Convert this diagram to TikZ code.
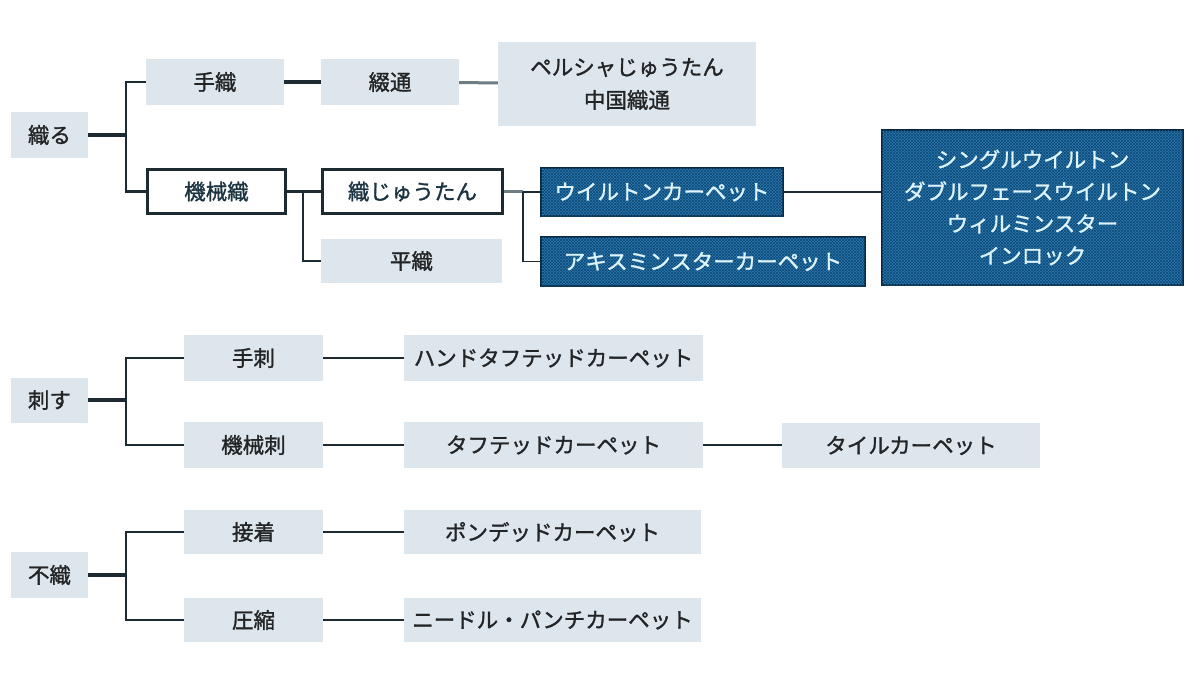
\documentclass[tikz,border=0pt]{standalone}
\usepackage{fontspec}
\setmainfont{Noto Sans CJK JP}[FakeBold=1.3]
\usetikzlibrary{patterns}
\definecolor{boxfill}{RGB}{221,230,236}
\definecolor{txt}{RGB}{34,36,38}
\definecolor{linec}{RGB}{30,42,50}
\definecolor{grayline}{RGB}{110,125,132}
\definecolor{bluefill}{RGB}{42,120,176}
\definecolor{bluepat}{RGB}{16,74,118}
\definecolor{bluetxt}{RGB}{222,244,252}
\definecolor{blueedge}{RGB}{12,40,62}
\definecolor{wtxt}{RGB}{28,52,66}
\tikzset{
  lbox/.style={draw=none, fill=boxfill, text=txt, minimum width=#1, inner sep=0pt,
    font=\fontsize{21.5}{33}\selectfont, align=center},
  wbox/.style={draw=linec, line width=3pt, fill=white, text=wtxt, minimum width=#1, inner sep=0pt,
    font=\fontsize{21.5}{33}\selectfont, align=center, minimum height=44},
  bbox/.style={draw=blueedge, line width=1.5pt, fill=bluefill, text=bluetxt, minimum width=#1, inner sep=0pt,
    font=\fontsize{21.5}{32}\selectfont, align=center,
    postaction={pattern=north east lines, pattern color=bluepat},
    postaction={pattern=north west lines, pattern color=bluepat}},
  conn/.style={draw=linec, line width=2.2pt},
  stub/.style={draw=linec, line width=3.2pt},
  thin/.style={draw=linec, line width=1.4pt},
  gconn/.style={draw=grayline, line width=3pt},
}
\begin{document}
\begin{tikzpicture}[x=1pt,y=-1pt]
\useasboundingbox (0,0) rectangle (1200,675);
\fill[white] (0,0) rectangle (1200,675);
% --- 織る group
\node[lbox=77, minimum height=46] (oru) at (49.5,135) {織る};
\node[lbox=138, minimum height=46] (teori) at (215,82) {手織};
\node[lbox=138, minimum height=46] (tsuzure) at (390,82) {綴通};
\node[lbox=258, minimum height=84] (persia) at (627,84) {ペルシャじゅうたん\\中国織通};
\node[wbox=138] (kikaiori) at (216.5,191.5) {機械織};
\node[wbox=180] (orijutan) at (412.5,191.5) {織じゅうたん};
\node[lbox=181, minimum height=44] (hiraori) at (411.5,261) {平織};
\node[bbox=242, minimum height=48] (wilton) at (662,192) {ウイルトンカーペット};
\node[bbox=324, minimum height=49] (axmin) at (703,261.5) {アキスミンスターカーペット};
\node[bbox=301, minimum height=155] (big) at (1032.5,207.5) {シングルウイルトン\\ダブルフェースウイルトン\\ウィルミンスター\\インロック};
\coordinate (j1) at (126,135);
\coordinate (j2) at (303,191.5);
\coordinate (j3) at (523,191.5);
\draw[stub] (oru) -- (j1);
\draw[conn] (teori.west) -| (j1) |- (kikaiori.west);
\draw[stub] (teori) -- (tsuzure);
\draw[gconn] (tsuzure) -- (persia);
\draw[conn] (kikaiori) -- (orijutan);
\draw[conn] (j2) |- (hiraori.west);
\draw[gconn] (orijutan.east) -- (j3);
\draw[thin] (wilton.west) -| (j3) |- (axmin.west);
\draw[thin] (wilton.east) -- (wilton.east -| big.west);
% --- 刺す group
\node[lbox=77, minimum height=45] (sasu) at (49.5,400) {刺す};
\node[lbox=139, minimum height=46] (tesashi) at (253.5,358) {手刺};
\node[lbox=139, minimum height=46] (kikaisashi) at (253.5,445) {機械刺};
\node[lbox=299, minimum height=46] (hand) at (553.5,358) {ハンドタフテッドカーペット};
\node[lbox=299, minimum height=46] (tufted) at (553.5,445) {タフテッドカーペット};
\node[lbox=258, minimum height=45] (tile) at (911,445.5) {タイルカーペット};
\coordinate (j4) at (126,400);
\draw[stub] (sasu) -- (j4);
\draw[conn] (tesashi.west) -| (j4) |- (kikaisashi.west);
\draw[conn] (tesashi) -- (hand);
\draw[conn] (kikaisashi) -- (tufted);
\draw[conn] (tufted.east) -- (tufted.east -| tile.west);
% --- 不織 group
\node[lbox=77, minimum height=46] (fushoku) at (49.5,575) {不織};
\node[lbox=139, minimum height=44] (setchaku) at (253.5,532) {接着};
\node[lbox=139, minimum height=44] (asshuku) at (253.5,620) {圧縮};
\node[lbox=297, minimum height=44] (bonded) at (552.5,532) {ポンデッドカーペット};
\node[lbox=297, minimum height=44] (needle) at (552.5,620) {ニードル・パンチカーペット};
\coordinate (j5) at (126,575);
\draw[stub] (fushoku) -- (j5);
\draw[conn] (setchaku.west) -| (j5) |- (asshuku.west);
\draw[conn] (setchaku) -- (bonded);
\draw[conn] (asshuku) -- (needle);
\end{tikzpicture}
\end{document}
